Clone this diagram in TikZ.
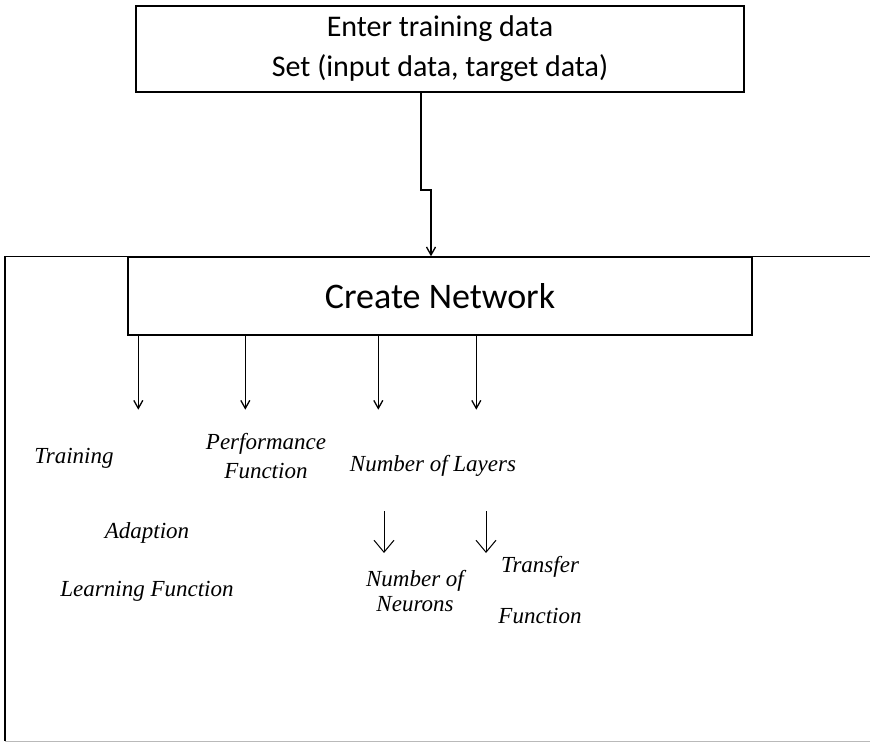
\documentclass[tikz,border=0pt]{standalone}
\usepackage{fontspec}
\setmainfont{Carlito}
\newfontfamily\itemfont{Liberation Serif}
\usepackage{xcolor}
\usepackage{tikz}
\usetikzlibrary{arrows.meta,positioning,calc}

\begin{document}
\begin{tikzpicture}[
  x=1pt, y=-1pt,
  box/.style={draw, line width=1.4pt, align=center, inner sep=0pt},
  item/.style={font=\fontsize{23}{25}\selectfont\itemfont\itshape, align=center, inner sep=0pt},
  arr/.style={-{Straight Barb[length=8pt, width=9pt]}, line width=1.3pt},
  down/.style={-{Straight Barb[length=12pt, width=20pt]}, line width=1pt},
]
\useasboundingbox (0,0) rectangle (870,743);
\clip (0,0) rectangle (870,743);

% outer frame, open to the right
\node[minimum width=880pt, minimum height=484pt, inner sep=0pt] (frame) at (445,499) {};
\draw[line width=1.4pt] (frame.north east) -- (frame.north west) -- (frame.south west);
\draw[line width=1.2pt, gray!55] (frame.south west) -- (frame.south east);

\node[box, minimum width=608pt, minimum height=86pt, font=\fontsize{30}{40}\selectfont] (data) at (440,49)
  {Enter training data\\Set (input data, target data)};
\node[box, fill=white, minimum width=624pt, minimum height=78pt, font=\fontsize{36}{40}\selectfont] (net) at (440,296)
  {Create Network};

\coordinate (jog) at (421,190);
\draw[arr] (data.south -| jog) -- (jog) -| ([xshift=-9pt]net.north);

% parameters of the network
\foreach \dx in {11,118,251,349}
  \draw[arr] ([xshift=\dx pt]net.south west) -- ++(0,74);

\node[item] (train) at (74,458) {Training};
\node[item] (perf) at (266,456) {Performance\\[4pt]Function};
\node[item] (layers) at (433,466) {Number of Layers};
\node[item] (adapt) at (147,533) {Adaption};
\node[item] (learn) at (147,591) {Learning Function};
\node[item] (neur) at (415,591) {Number of\\Neurons};
\node[item] (transf) at (540,590) {Transfer\\[26pt]Function};

\draw[down] (384,511) -- (384,553);
\draw[down] (486,511) -- (486,553);
\end{tikzpicture}
\end{document}
